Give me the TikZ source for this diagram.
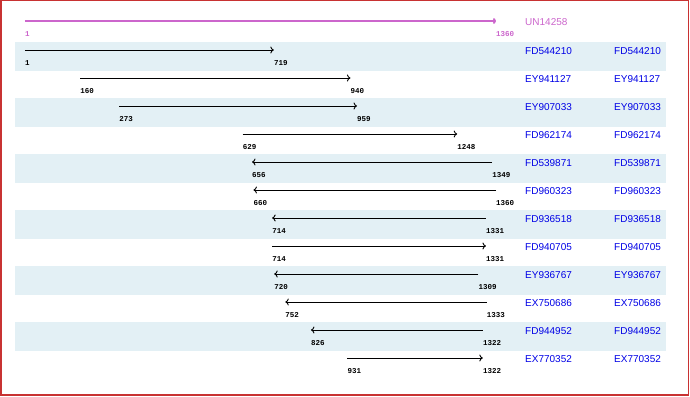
\documentclass[tikz,border=0pt]{standalone}
\usepackage{fontspec}
\setmainfont{Liberation Sans}
\newfontfamily\posfont{Liberation Mono}
\usepackage{tikz}
\usetikzlibrary{arrows.meta}
\definecolor{framered}{RGB}{200,50,50}
\definecolor{stripeblue}{RGB}{227,240,245}
\definecolor{querypink}{RGB}{204,102,204}
\definecolor{hitblue}{RGB}{0,0,230}

\begin{document}
\begin{tikzpicture}[
        x=1pt, y=-1pt,
        band/.style={fill=stripeblue, draw=none},
        acc/.style={anchor=west, inner sep=0pt, text=hitblue,
                    font=\fontsize{10}{10}\selectfont},
        posnum/.style={anchor=west, inner sep=0pt,
                    font=\posfont\bfseries\fontsize{7.5}{7.5}\selectfont},
        hit/.style={-{To[length=3.5pt,width=7pt]}, line width=0.9pt},
        query/.style={-{To[length=3pt,width=6pt]}, line width=2pt, querypink}
    ]
        \useasboundingbox (0,0) rectangle (690,396);
        \fill[white] (0,0) rectangle (690,396);
        \draw[framered, line width=1.5pt] (0.75,0.75) rectangle (688.5,395);

        % shaded rows
        \foreach \t in {42,98,154,210,266,322}
            \fill[band] (15,\t) rectangle (666,\t+29);

        % hits, placed by sequence position
        \begin{scope}[x=0.346578pt, xshift=24.653pt]
            \coordinate (qs) at (1,21);    \coordinate (qe) at (1360,21);
            \draw[query] (qs) -- (qe);
            \node[posnum, text=querypink] (ql) at (1,34) {1};
            \node[posnum, text=querypink] (qr) at (1360,34) {1360};

            \coordinate (s1) at (1,50);    \coordinate (e1) at (719,50);
            \draw[hit] (s1) -- (e1);
            \node[posnum] (l1) at (1,63) {1};      \node[posnum] (r1) at (719,63) {719};

            \coordinate (s2) at (160,78);  \coordinate (e2) at (940,78);
            \draw[hit] (s2) -- (e2);
            \node[posnum] (l2) at (160,91) {160};  \node[posnum] (r2) at (940,91) {940};

            \coordinate (s3) at (273,106); \coordinate (e3) at (959,106);
            \draw[hit] (s3) -- (e3);
            \node[posnum] (l3) at (273,119) {273}; \node[posnum] (r3) at (959,119) {959};

            \coordinate (s4) at (629,134); \coordinate (e4) at (1248,134);
            \draw[hit] (s4) -- (e4);
            \node[posnum] (l4) at (629,147) {629}; \node[posnum] (r4) at (1248,147) {1248};

            \coordinate (s5) at (656,162); \coordinate (e5) at (1349,162);
            \draw[hit] (e5) -- (s5);
            \node[posnum] (l5) at (656,175) {656}; \node[posnum] (r5) at (1349,175) {1349};

            \coordinate (s6) at (660,190); \coordinate (e6) at (1360,190);
            \draw[hit] (e6) -- (s6);
            \node[posnum] (l6) at (660,203) {660}; \node[posnum] (r6) at (1360,203) {1360};

            \coordinate (s7) at (714,218); \coordinate (e7) at (1331,218);
            \draw[hit] (e7) -- (s7);
            \node[posnum] (l7) at (714,231) {714}; \node[posnum] (r7) at (1331,231) {1331};

            \coordinate (s8) at (714,246); \coordinate (e8) at (1331,246);
            \draw[hit] (s8) -- (e8);
            \node[posnum] (l8) at (714,259) {714}; \node[posnum] (r8) at (1331,259) {1331};

            \coordinate (s9) at (720,274); \coordinate (e9) at (1309,274);
            \draw[hit] (e9) -- (s9);
            \node[posnum] (l9) at (720,287) {720}; \node[posnum] (r9) at (1309,287) {1309};

            \coordinate (s10) at (752,302); \coordinate (e10) at (1333,302);
            \draw[hit] (e10) -- (s10);
            \node[posnum] (l10) at (752,315) {752}; \node[posnum] (r10) at (1333,315) {1333};

            \coordinate (s11) at (826,330); \coordinate (e11) at (1322,330);
            \draw[hit] (e11) -- (s11);
            \node[posnum] (l11) at (826,343) {826}; \node[posnum] (r11) at (1322,343) {1322};

            \coordinate (s12) at (931,358); \coordinate (e12) at (1322,358);
            \draw[hit] (s12) -- (e12);
            \node[posnum] (l12) at (931,371) {931}; \node[posnum] (r12) at (1322,371) {1322};
        \end{scope}

        % accession columns
        \node[acc, text=querypink] (q) at (525,22) {UN14258};
        \node[acc] (a1)  at (525,51)  {FD544210};  \node[acc] (b1)  at (614,51)  {FD544210};
        \node[acc] (a2)  at (525,79)  {EY941127};  \node[acc] (b2)  at (614,79)  {EY941127};
        \node[acc] (a3)  at (525,107) {EY907033};  \node[acc] (b3)  at (614,107) {EY907033};
        \node[acc] (a4)  at (525,135) {FD962174};  \node[acc] (b4)  at (614,135) {FD962174};
        \node[acc] (a5)  at (525,163) {FD539871};  \node[acc] (b5)  at (614,163) {FD539871};
        \node[acc] (a6)  at (525,191) {FD960323};  \node[acc] (b6)  at (614,191) {FD960323};
        \node[acc] (a7)  at (525,219) {FD936518};  \node[acc] (b7)  at (614,219) {FD936518};
        \node[acc] (a8)  at (525,247) {FD940705};  \node[acc] (b8)  at (614,247) {FD940705};
        \node[acc] (a9)  at (525,275) {EY936767};  \node[acc] (b9)  at (614,275) {EY936767};
        \node[acc] (a10) at (525,303) {EX750686};  \node[acc] (b10) at (614,303) {EX750686};
        \node[acc] (a11) at (525,331) {FD944952};  \node[acc] (b11) at (614,331) {FD944952};
        \node[acc] (a12) at (525,359) {EX770352};  \node[acc] (b12) at (614,359) {EX770352};
    \end{tikzpicture}
\end{document}
